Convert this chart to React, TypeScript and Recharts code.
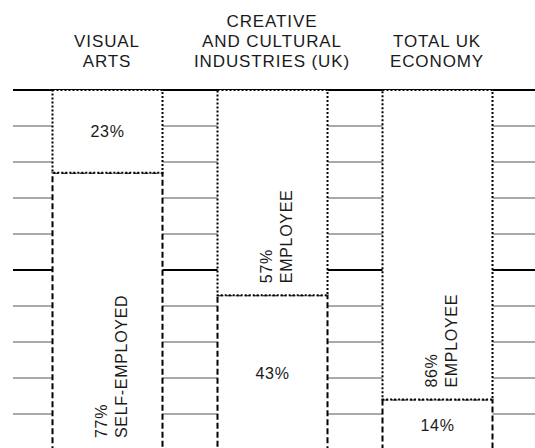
import { BarChart, Bar, XAxis, YAxis, CartesianGrid, LabelList } from 'recharts'

const categories = ['VISUAL ARTS', 'CREATIVE AND CULTURAL INDUSTRIES (UK)', 'TOTAL UK ECONOMY']
const categoryLines = [['VISUAL', 'ARTS'], ['CREATIVE', 'AND CULTURAL', 'INDUSTRIES (UK)'], ['TOTAL UK', 'ECONOMY']]
const selfEmployed = [77, 43, 14]
const employee = [23, 57, 86]
const yTicks = [0, 10, 20, 30, 40, 50, 60, 70, 80, 90, 100]

const FONT = '"Liberation Sans", Arial, Helvetica, sans-serif'

const data = categories.map((name, i) => ({
  name,
  selfEmployed: selfEmployed[i],
  employee: employee[i]
}))

function HeaderTick(props: any) {
  const { x, index } = props
  const lines = categoryLines[index] || []
  return (
    <g>
      {lines.map((line, i) => (
        <text
          key={i}
          x={x}
          y={67 - (lines.length - 1 - i) * 20}
          textAnchor="middle"
          fontFamily={FONT}
          fontSize={17}
          letterSpacing={0.9}
          fill="#1a1a1a"
        >
          {line}
        </text>
      ))}
    </g>
  )
}

function segmentLabel(title: string) {
  return (props: any) => {
    const { x, y, width, height, value } = props
    const cx = x + width / 2
    if (value >= 50) {
      const bottom = y + height - 12
      return (
        <g transform={`translate(${cx}, ${bottom}) rotate(-90)`}>
          <text x={0} y={-1} fontFamily={FONT} fontSize={16} letterSpacing={0.7} fill="#1a1a1a">{`${value}%`}</text>
          <text x={0} y={19} fontFamily={FONT} fontSize={16} letterSpacing={0.7} fill="#1a1a1a">{title}</text>
        </g>
      )
    }
    return (
      <text x={cx} y={y + height / 2 + 6} textAnchor="middle" fontFamily={FONT} fontSize={16} letterSpacing={0.7} fill="#1a1a1a">
        {`${value}%`}
      </text>
    )
  }
}

function gridLine(props: any) {
  const { x1, y1, x2, y2, y, height, key } = props
  // the top edge (100%) and the middle (50%) are drawn heavier
  const heavy = Math.abs(y1 - y) < 1 || Math.abs(y1 - (y + height / 2)) < 1
  return (
    <line
      key={key}
      x1={x1}
      y1={y1}
      x2={x2}
      y2={y2}
      stroke={heavy ? '#000' : '#555'}
      strokeWidth={heavy ? 2 : 1}
    />
  )
}

export default function App() {
  return (
    <div style={{ position: 'absolute', left: 0, top: 0, width: 535, height: 448, overflow: 'hidden', background: '#fff' }}>
      <BarChart width={535} height={450} data={data} margin={{ top: 0, right: 0, bottom: 0, left: 13 }}>
        <CartesianGrid vertical={false} horizontal={gridLine} />
        <XAxis
          dataKey="name"
          orientation="top"
          height={90}
          axisLine={false}
          tickLine={false}
          interval={0}
          padding={{ left: 11.5, right: 15.5 }}
          tick={<HeaderTick />}
        />
        <YAxis hide domain={[0, 100]} ticks={yTicks} />
        <Bar
          dataKey="selfEmployed"
          stackId="a"
          barSize={110}
          fill="#fff"
          stroke="#000"
          strokeWidth={2}
          strokeDasharray="6 3"
          isAnimationActive={false}
        >
          <LabelList dataKey="selfEmployed" content={segmentLabel('SELF-EMPLOYED')} />
        </Bar>
        <Bar
          dataKey="employee"
          stackId="a"
          barSize={110}
          fill="#fff"
          stroke="#000"
          strokeWidth={2}
          strokeDasharray="2 2"
          isAnimationActive={false}
        >
          <LabelList dataKey="employee" content={segmentLabel('EMPLOYEE')} />
        </Bar>
      </BarChart>
    </div>
  )
}
